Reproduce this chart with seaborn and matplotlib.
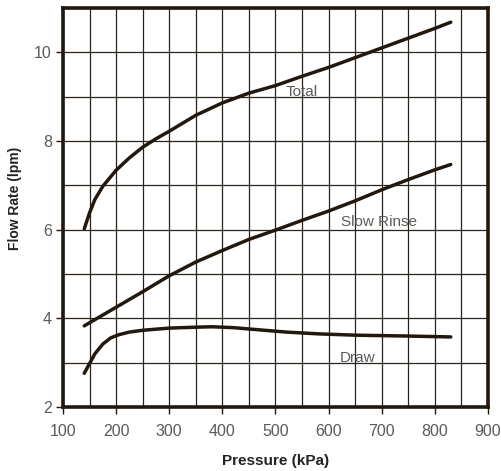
import matplotlib
matplotlib.use("Agg")
import matplotlib.pyplot as plt
import seaborn as sns
import pandas as pd
import numpy as np

# Flow rate vs. supply pressure for the three operating modes
total_p = [140, 150, 160, 175, 200, 225, 250, 275, 300, 350, 400, 450, 500,
           550, 600, 650, 700, 750, 800, 830]
total_q = [6.02, 6.38, 6.68, 6.98, 7.34, 7.62, 7.86, 8.05, 8.22, 8.58, 8.86,
           9.08, 9.25, 9.46, 9.66, 9.88, 10.10, 10.32, 10.54, 10.68]

rinse_p = [140, 200, 250, 300, 350, 400, 450, 500, 550, 600, 650, 700, 750,
           800, 830]
rinse_q = [3.83, 4.25, 4.60, 4.96, 5.27, 5.53, 5.78, 5.99, 6.21, 6.42, 6.65,
           6.90, 7.13, 7.35, 7.47]

draw_p = [140, 150, 160, 175, 190, 205, 225, 250, 300, 350, 380, 420, 470,
          520, 580, 650, 750, 830]
draw_q = [2.76, 2.98, 3.20, 3.42, 3.56, 3.63, 3.69, 3.73, 3.78, 3.80, 3.81,
          3.79, 3.74, 3.69, 3.65, 3.62, 3.60, 3.58]

series_names = ["Total", "Slow Rinse", "Draw"]
x_ticks = [100, 200, 300, 400, 500, 600, 700, 800, 900]
y_ticks = [2, 4, 6, 8, 10]

df = pd.concat([
    pd.DataFrame({"Pressure": total_p, "Flow": total_q, "Mode": "Total"}),
    pd.DataFrame({"Pressure": rinse_p, "Flow": rinse_q, "Mode": "Slow Rinse"}),
    pd.DataFrame({"Pressure": draw_p, "Flow": draw_q, "Mode": "Draw"}),
], ignore_index=True)

sns.set_theme(style="white")
plt.rcParams["font.family"] = ["Liberation Sans", "DejaVu Sans"]

ink = "#22180e"
grey_text = "#5a5a5a"

fig = plt.figure(figsize=(5.02, 4.71), dpi=100)
ax = fig.add_axes([0.1255, 0.1359, 0.8465, 0.8471])

sns.lineplot(data=df, x="Pressure", y="Flow", hue="Mode", hue_order=series_names,
             palette=[ink, ink, ink], linewidth=2.5, sort=False,
             estimator=None, legend=False, ax=ax, zorder=3)

ax.set_xlim(100, 900)
ax.set_ylim(2, 11)
ax.set_xticks(x_ticks)
ax.set_yticks(y_ticks)
ax.set_xticks(np.arange(100, 901, 50), minor=True)
ax.set_yticks(np.arange(2, 11.01, 1), minor=True)
ax.grid(which="both", color="#2a241e", linewidth=0.9, zorder=1)
ax.set_axisbelow(True)

for side in ["left", "bottom", "top", "right"]:
    ax.spines[side].set_color(ink)
    ax.spines[side].set_linewidth(2.6)
    ax.spines[side].set_zorder(4)

ax.tick_params(axis="both", which="major", direction="out", length=5, width=1,
               color=ink, labelcolor=grey_text, labelsize=11.5, pad=6)
ax.tick_params(axis="both", which="minor", length=0)
ax.tick_params(axis="x", which="major", bottom=True, pad=7)
ax.tick_params(axis="y", which="major", left=True, pad=3)

ax.set_xlabel("Pressure (kPa)", fontsize=11, fontweight="bold", color="#222222",
              labelpad=11)
ax.set_ylabel("Flow Rate (lpm)", fontsize=10, fontweight="bold", color="#222222")
ax.yaxis.set_label_coords(-0.097, 0.524)

label_kw = dict(fontsize=11, color=grey_text, va="center", zorder=5)
ax.text(520, 9.1, "Total", ha="left", **label_kw)
ax.text(694, 6.17, "Slow Rinse", ha="center", **label_kw)
ax.text(654, 3.1, "Draw", ha="center", **label_kw)

fig.savefig("out.png", dpi=100, facecolor="white")
